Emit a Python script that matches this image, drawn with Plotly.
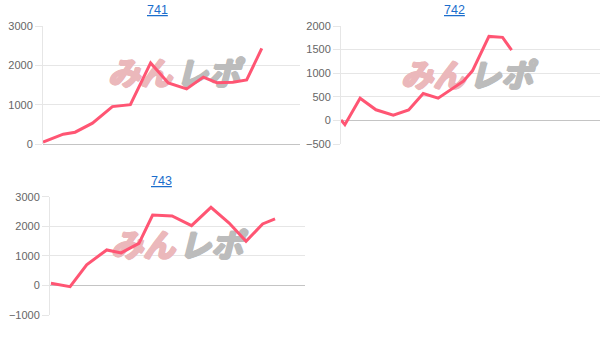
import plotly.graph_objects as go

W, H = 608, 340

# Machine numbers shown above each graph
machines = ["741", "742", "743"]

# Game count (x) and coin difference (y) for each machine
games_741 = [0, 630, 1000, 1540, 2160, 2720, 3350, 3900, 4470, 4990, 5410, 5910, 6340, 6810]
diff_741 = [50, 250, 300, 530, 950, 1000, 2060, 1550, 1400, 1700, 1560, 1570, 1630, 2430]

games_742 = [0, 120, 590, 1080, 1615, 2090, 2540, 3000, 3780, 4060, 4570, 4990, 5270]
diff_742 = [10, -90, 470, 225, 110, 220, 570, 470, 830, 1050, 1780, 1760, 1490]

games_743 = [30, 630, 1150, 1780, 2230, 2790, 3220, 3830, 4440, 5050, 5620, 6150, 6670, 7060]
diff_743 = [70, -40, 700, 1200, 1100, 1420, 2380, 2350, 2020, 2640, 2110, 1490, 2080, 2250]

y_ranges = [[0, 3000], [-500, 2000], [-1000, 3000]]
y_dticks = [1000, 500, 1000]
X_RANGE = [0, 8000]

LINE_COLOR = "#ff5573"
GRID = "#e6e6e6"
ZERO = "#c4c4c4"
TICK_FONT = dict(family="Liberation Sans, Arial, sans-serif", size=11, color="#666666")
LOGO_PINK = "#ebb8bb"
LOGO_GRAY = "#bcbcbc"


def px_x(p):
    return p / W


def px_y(p):
    return 1 - p / H


# Plot-area boxes in pixels: (left, right, top, bottom)
boxes = [(43, 300, 26, 144), (341, 600, 26, 144), (50, 305, 196.7, 315)]
title_pos = [(157.7, 10), (454.3, 10), (161.7, 180.7)]
# Logo word centres in pixels: (みん x, レポ x, y)
mark_pos = [(140, 208, 77), (433, 501, 79), (143, 211, 249)]

series = [(games_741, diff_741), (games_742, diff_742), (games_743, diff_743)]


def logo_font(color):
    glow = ", ".join(f"{dx}px {dy}px 0 {color}" for dx, dy in
                     [(1.2, 0), (-1.2, 0), (0, 0.7), (0, -0.7), (0.8, 0.7), (-0.8, -0.7)])
    return dict(family="Noto Sans CJK JP", size=32, weight="bold", style="italic",
                color=color, shadow=glow)


fig = go.Figure()
annotations = []
for i, ((gx, dy), (l, r, t, b)) in enumerate(zip(series, boxes)):
    n = "" if i == 0 else str(i + 1)
    y0, y1 = y_ranges[i]

    def to_data(px, py):
        return (X_RANGE[0] + (px - l) / (r - l) * (X_RANGE[1] - X_RANGE[0]),
                y0 + (b - py) / (b - t) * (y1 - y0))

    # Site logo watermark, drawn first so the line sits above it
    mx1, mx2, my = mark_pos[i]
    for word, mx, col in (("みん", mx1, LOGO_PINK), ("レポ", mx2, LOGO_GRAY)):
        wx, wy = to_data(mx, my)
        fig.add_trace(go.Scatter(
            x=[wx], y=[wy], mode="text", text=[word],
            textposition="middle center", textfont=logo_font(col),
            xaxis="x" + n, yaxis="y" + n, cliponaxis=False,
            hoverinfo="skip", showlegend=False,
        ))

    fig.add_trace(go.Scatter(
        x=gx, y=dy, mode="lines",
        line=dict(color=LINE_COLOR, width=3),
        xaxis="x" + n, yaxis="y" + n,
        hoverinfo="skip", showlegend=False,
    ))
    fig.update_layout(**{
        "xaxis" + n: dict(
            domain=[px_x(l), px_x(r)], range=X_RANGE, anchor="y" + n,
            showgrid=False, zeroline=False, showticklabels=False, showline=False,
            fixedrange=True, automargin=False,
        ),
        "yaxis" + n: dict(
            domain=[px_y(b), px_y(t)], range=y_ranges[i], dtick=y_dticks[i],
            anchor="x" + n,
            showgrid=True, gridcolor=GRID, gridwidth=1,
            zeroline=True, zerolinecolor=ZERO, zerolinewidth=1,
            showline=True, linecolor=GRID, linewidth=1,
            ticks="outside", ticklen=7, tickcolor=GRID,
            tickfont=TICK_FONT, fixedrange=True, automargin=False,
        ),
    })

    tx, ty = title_pos[i]
    annotations.append(dict(
        text="<u>" + machines[i] + "</u>", x=px_x(tx), y=px_y(ty),
        xref="paper", yref="paper", xanchor="center", yanchor="middle",
        showarrow=False,
        font=dict(family="Liberation Sans, Arial, sans-serif", size=12.5, color="#1a6dcc"),
    ))

fig.update_layout(
    width=W, height=H,
    margin=dict(l=0, r=0, t=0, b=0, autoexpand=False),
    paper_bgcolor="white", plot_bgcolor="white",
    annotations=annotations,
)

fig.write_html("out.html", config={"displayModeBar": False})
